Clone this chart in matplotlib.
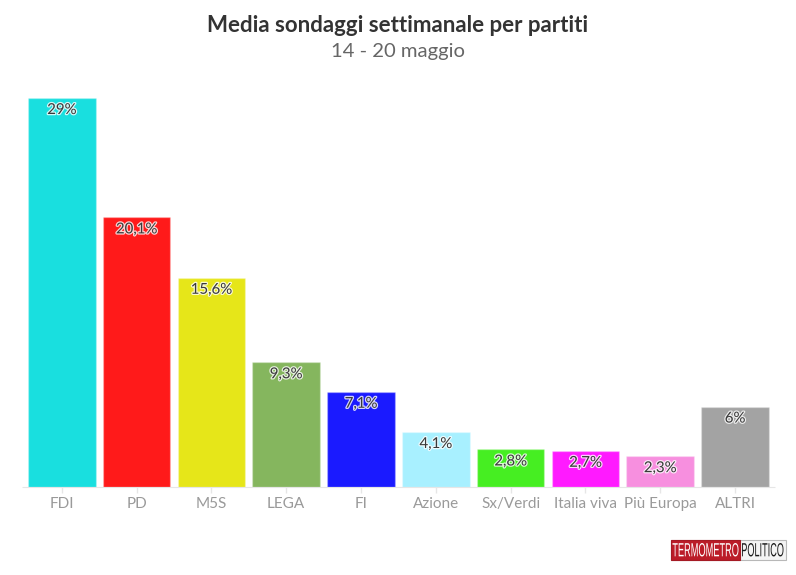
import matplotlib
matplotlib.use('Agg')
import matplotlib.pyplot as plt
import matplotlib.patheffects as pe
from matplotlib.patches import Rectangle, PathPatch
from matplotlib.textpath import TextPath
from matplotlib.font_manager import FontProperties
from matplotlib.transforms import Affine2D

W, H = 796, 575

partiti = ['FDI', 'PD', 'M5S', 'LEGA', 'FI', 'Azione', 'Sx/Verdi', 'Italia viva', 'Più Europa', 'ALTRI']
valori = [29, 20.1, 15.6, 9.3, 7.1, 4.1, 2.8, 2.7, 2.3, 6]
etichette = ['29%', '20,1%', '15,6%', '9,3%', '7,1%', '4,1%', '2,8%', '2,7%', '2,3%', '6%']
colori = ['#19dfdf', '#ff1a1a', '#e6e619', '#85b65e', '#1a1aff', '#a8f0ff', '#46ee22', '#ff1aff', '#f78fdf', '#a3a3a3']

plt.rcParams['font.family'] = ['Lato', 'DejaVu Sans']

fig = plt.figure(figsize=(W / 100, H / 100), dpi=100)

# axes placed in pixels: left 24.4, right 772.4, baseline 487, top 98
ax = fig.add_axes([24.4 / W, 1 - 487 / H, 748 / W, 389 / H])
ax.bar(range(len(valori)), valori, width=0.905, color=colori, edgecolor=(1, 1, 1, 0.25), linewidth=1)
ax.set_xlim(-0.5, 9.5)
ax.set_ylim(0, 29)
ax.set_yticks([])
ax.set_xticks(range(len(partiti)))
ax.set_xticklabels(partiti, fontsize=11, color='#9a9a9a')
ax.tick_params(axis='x', length=4, width=1, color='#e6e6e6', pad=3)
for s in ['top', 'left', 'right']:
    ax.spines[s].set_visible(False)
ax.spines['bottom'].set_color('#e6e6e6')
ax.spines['bottom'].set_bounds(-0.53, 9.53)
ax.spines['bottom'].set_capstyle('butt')

for i, (v, e) in enumerate(zip(valori, etichette)):
    ax.annotate(e, (i, v), xytext=(0, -3.6), textcoords='offset points', ha='center', va='top',
                fontsize=10.8, color='#3a3a3a', clip_on=False,
                path_effects=[pe.withStroke(linewidth=1.8, foreground=(1, 1, 1, 0.8))])

fig.text(398 / W, 1 - 26 / H, 'Media sondaggi settimanale per partiti', ha='center', va='center',
         fontsize=16, fontweight='bold', color='#333333')
fig.text(398 / W, 1 - 51 / H, '14 - 20 maggio', ha='center', va='center', fontsize=14.6, color='#666666')

# logo
logo = fig.add_axes([0, 0, 1, 1], facecolor='none')
logo.set_xlim(0, W)
logo.set_ylim(H, 0)
logo.axis('off')
logo.add_patch(Rectangle((670.5, 539.5), 115, 20, facecolor='#f4f4f4', edgecolor='#b8b8b8', linewidth=0.8))
logo.add_patch(Rectangle((670.5, 539.5), 69, 20, facecolor='#bb1c28', edgecolor='#a51a24', linewidth=0.8))


def squeezed(testo, x0, x1, y0, y1, colore):
    # text as outline, squeezed into the box because the logo font is very narrow
    tp = TextPath((0, 0), testo, size=10, prop=FontProperties(family='Liberation Sans'))
    bb = tp.get_extents()
    tr = (Affine2D().translate(-bb.x0, -bb.y0)
          .scale((x1 - x0) / bb.width, -(y1 - y0) / bb.height)
          .translate(x0, y1))
    logo.add_patch(PathPatch(tr.transform_path(tp), facecolor=colore, edgecolor='none'))


squeezed('TERMOMETRO', 672.5, 738.5, 543, 556.5, 'white')
squeezed('POLITICO', 742, 783.5, 543, 556.5, '#1a1a1a')

fig.savefig('out.png', dpi=100)
